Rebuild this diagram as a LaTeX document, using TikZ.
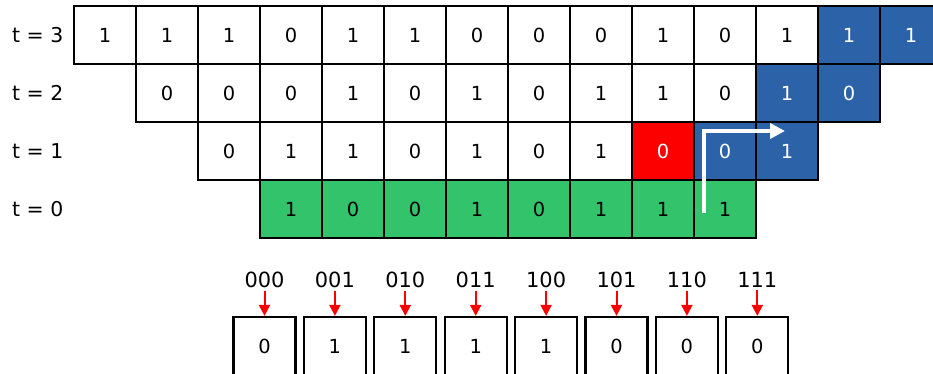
\documentclass[tikz,border=0pt]{standalone}
\usepackage{fontspec}
\setmainfont{DejaVu Sans}
\usetikzlibrary{arrows.meta}

\definecolor{cablue}{RGB}{43,98,168}
\definecolor{cagreen}{RGB}{51,195,106}
\definecolor{cared}{RGB}{252,0,0}

\tikzset{
  cell/.style={draw, line width=2.2bp, minimum width=62bp, minimum height=58bp,
    inner sep=0pt, font=\fontsize{19.5}{19.5}\selectfont},
  whitecell/.style={cell, fill=white},
  bluecell/.style={cell, fill=cablue, text=white},
  greencell/.style={cell, fill=cagreen, text=black},
  redcell/.style={cell, fill=cared, text=white},
  rulebox/.style={draw, line width=2.2bp, minimum width=62bp, minimum height=58bp,
    inner sep=0pt, font=\fontsize{19.5}{19.5}\selectfont},
  rowlabel/.style={anchor=west, inner sep=0pt, font=\fontsize{20.5}{20.5}\selectfont},
  patlabel/.style={inner sep=2.5bp, font=\fontsize{21}{21}\selectfont},
}

\begin{document}
\begin{tikzpicture}[x=1bp, y=-1bp]
  \useasboundingbox (0,0) rectangle (933,373);
  \clip (0,0) rectangle (933,373);
  \fill[white] (0,0) rectangle (933,373);
  % row labels
  \node[rowlabel] (t3) at (12,35) {t = 3};
  \node[rowlabel] (t2) at (12,93) {t = 2};
  \node[rowlabel] (t1) at (12,151) {t = 1};
  \node[rowlabel] (t0) at (12,209) {t = 0};
  % t = 3
  \foreach \v/\s [count=\i] in {1/whitecell,1/whitecell,1/whitecell,0/whitecell,1/whitecell,1/whitecell,0/whitecell,
      0/whitecell,0/whitecell,1/whitecell,0/whitecell,1/whitecell,1/bluecell,1/bluecell}
    \node[\s] (r3-\i) at (74+62*\i-31,35) {\v};
  % t = 2
  \foreach \v/\s [count=\i] in {0/whitecell,0/whitecell,0/whitecell,1/whitecell,0/whitecell,1/whitecell,
      0/whitecell,1/whitecell,1/whitecell,0/whitecell,1/bluecell,0/bluecell}
    \node[\s] (r2-\i) at (136+62*\i-31,93) {\v};
  % t = 1
  \foreach \v/\s [count=\i] in {0/whitecell,1/whitecell,1/whitecell,0/whitecell,1/whitecell,
      0/whitecell,1/whitecell,0/redcell,0/bluecell,1/bluecell}
    \node[\s] (r1-\i) at (198+62*\i-31,151) {\v};
  % t = 0
  \foreach \v [count=\i] in {1,0,0,1,0,1,1,1}
    \node[greencell] (r0-\i) at (260+62*\i-31,209) {\v};
  % neighbourhood arrow
  \coordinate (start) at ([shift={(-21,4)}]r0-8.center);
  \coordinate (end) at ([shift={(-2,-20)}]r1-10.center);
  \draw[white, line width=4bp, -{Triangle[length=15bp,width=15bp]}] (start) |- (end);
  % rule table
  \foreach \p/\v [count=\i from 0] in {000/0,001/1,010/1,011/1,100/1,101/0,110/0,111/0} {
    \node[patlabel] (p\i) at (264.5+70.4*\i,280) {\p};
    \node[rulebox] (b\i) at (264.5+70.4*\i,346) {\v};
    \draw[cared, line width=2bp, -{Triangle[length=11bp,width=11bp]}] (p\i.south) -- (b\i.north);
  }
\end{tikzpicture}
\end{document}
